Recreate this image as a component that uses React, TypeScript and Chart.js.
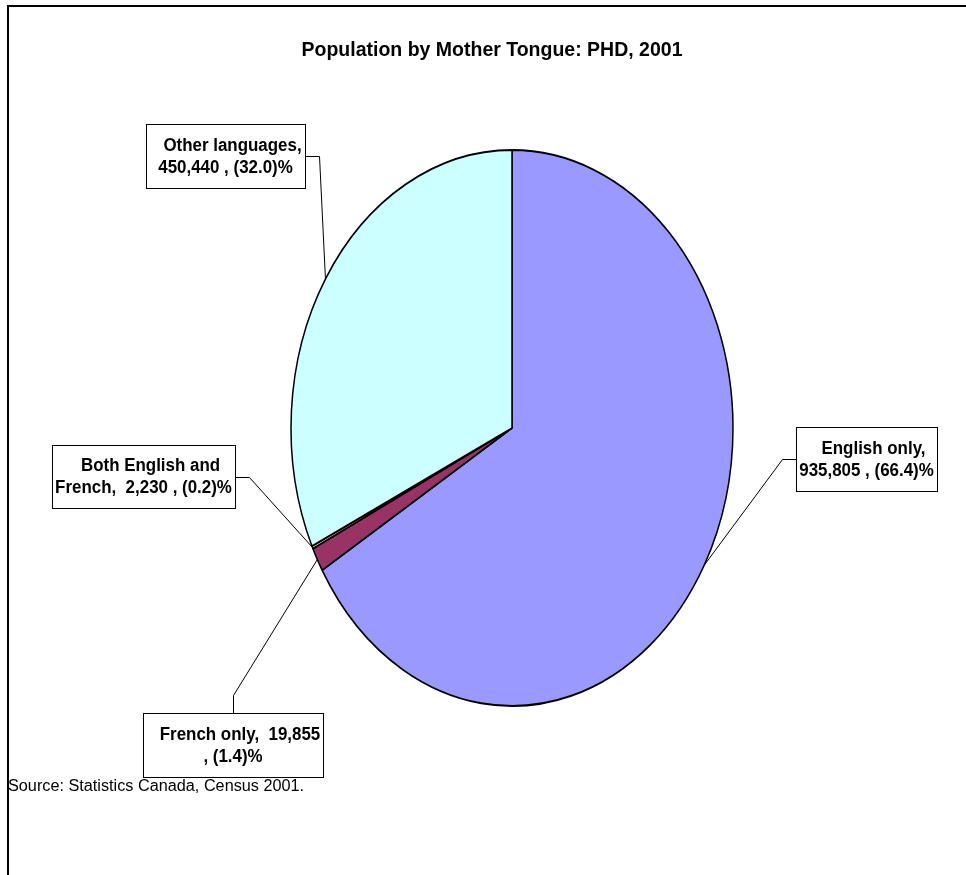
import React, { useEffect, useRef } from "react";
import { Chart, registerables } from "chart.js";

Chart.register(...registerables);

// ---- data ----
const categories = ["English only", "French only", "Both English and French", "Other languages"];
const values = [935805, 19855, 2230, 450440];
const sliceColors = ["#9999FF", "#993366", "#FFFFCC", "#CCFFFF"];
const labelLines = [
  ["English only,", "935,805 , (66.4)%"],
  ["French only,  19,855", ", (1.4)%"],
  ["Both English and", "French,  2,230 , (0.2)%"],
  ["Other languages,", "450,440 , (32.0)%"],
];
const titleText = "Population by Mother Tongue: PHD, 2001";
const sourceText = "Source: Statistics Canada, Census 2001.";

// ---- layout ----
const W = 966;
const H = 875;
const RX = 221;
const RY = 278;
const SY = RY / RX;
const boxes = [
  { x: 796, y: 427, w: 141, h: 64, side: "left" },
  { x: 143, y: 713, w: 180, h: 64, side: "top" },
  { x: 52, y: 445, w: 183, h: 63, side: "right" },
  { x: 146, y: 124, w: 159, h: 64, side: "right" },
];
const STUB = 14;
const LABEL_FONT = "bold 18px 'Liberation Sans', Arial, sans-serif";
const LABEL_SX = 0.94;
const TITLE_FONT = "bold 19.5px 'Liberation Sans', Arial, sans-serif";
const SOURCE_FONT = "16px 'Liberation Sans', Arial, sans-serif";
const SOURCE_SX = 1.015;

function drawText(ctx: CanvasRenderingContext2D, text: string, x: number, y: number, sx: number) {
  ctx.save();
  ctx.translate(x, y);
  ctx.scale(sx, 1);
  ctx.fillText(text, 0, 0);
  ctx.restore();
}

const ellipsePlugin = {
  id: "ellipsePie",
  beforeDatasetsDraw(chart: any) {
    const arc = chart.getDatasetMeta(0).data[0];
    const ctx = chart.ctx;
    ctx.save();
    ctx.translate(arc.x, arc.y);
    ctx.scale(1, SY);
    ctx.translate(-arc.x, -arc.y);
  },
  afterDatasetsDraw(chart: any) {
    chart.ctx.restore();
  },
  afterDraw(chart: any) {
    const ctx = chart.ctx as CanvasRenderingContext2D;
    const meta = chart.getDatasetMeta(0);
    ctx.save();
    // frame
    ctx.strokeStyle = "#000";
    ctx.lineWidth = 2;
    ctx.beginPath();
    ctx.moveTo(8, H + 5);
    ctx.lineTo(8, 6);
    ctx.lineTo(W + 5, 6);
    ctx.stroke();

    // title
    ctx.fillStyle = "#000";
    ctx.font = TITLE_FONT;
    ctx.textAlign = "center";
    ctx.textBaseline = "middle";
    ctx.fillText(titleText, 492, 51);

    // source
    ctx.font = SOURCE_FONT;
    ctx.textAlign = "left";
    drawText(ctx, sourceText, 8, 787, SOURCE_SX);

    // labels
    meta.data.forEach((arc: any, i: number) => {
      const b = boxes[i];
      const mid = (arc.startAngle + arc.endAngle) / 2;
      const ax = arc.x + arc.outerRadius * Math.cos(mid);
      const ay = arc.y + arc.outerRadius * Math.sin(mid) * SY;
      let sx = 0, sy = 0, ex = 0, ey = 0;
      if (b.side === "left") {
        sx = b.x; sy = b.y + b.h / 2; ex = sx - STUB; ey = sy;
      } else if (b.side === "right") {
        sx = b.x + b.w; sy = b.y + b.h / 2; ex = sx + STUB; ey = sy;
      } else {
        sx = b.x + b.w / 2; sy = b.y; ex = sx; ey = sy - 18;
      }
      ctx.strokeStyle = "#000";
      ctx.lineWidth = 1;
      ctx.beginPath();
      ctx.moveTo(Math.round(sx) + 0.5, Math.round(sy) + 0.5);
      ctx.lineTo(Math.round(ex) + 0.5, Math.round(ey) + 0.5);
      ctx.lineTo(ax, ay);
      ctx.stroke();

      ctx.fillStyle = "#fff";
      ctx.fillRect(b.x, b.y, b.w, b.h);
      ctx.strokeRect(b.x + 0.5, b.y + 0.5, b.w, b.h);

      ctx.fillStyle = "#000";
      ctx.font = LABEL_FONT;
      ctx.textAlign = "center";
      ctx.textBaseline = "middle";
      const cx = b.x + b.w / 2;
      const cy = b.y + b.h / 2;
      const lines = labelLines[i];
      drawText(ctx, lines[0], cx + 7, cy - 10, LABEL_SX);
      drawText(ctx, lines[1], cx, cy + 12, LABEL_SX);
    });
    ctx.restore();
  },
};

export default function App() {
  const ref = useRef<HTMLCanvasElement>(null);
  useEffect(() => {
    if (!ref.current) return;
    const chart = new Chart(ref.current, {
      type: "pie",
      data: {
        labels: categories,
        datasets: [
          {
            data: values,
            backgroundColor: sliceColors,
            borderColor: "#000",
            borderWidth: 1.5,
            radius: RX,
          } as any,
        ],
      },
      options: {
        responsive: false,
        animation: false,
        events: [],
        layout: { padding: { left: 58, right: 0, top: 0, bottom: 19 } },
        plugins: {
          legend: { display: false },
          title: { display: false },
          tooltip: { enabled: false },
        },
      },
      plugins: [ellipsePlugin],
    });
    return () => chart.destroy();
  }, []);
  return (
    <div style={{ position: "fixed", left: 0, top: 0, width: W, height: H, background: "#fff" }}>
      <canvas ref={ref} width={W} height={H} style={{ display: "block" }} />
    </div>
  );
}
